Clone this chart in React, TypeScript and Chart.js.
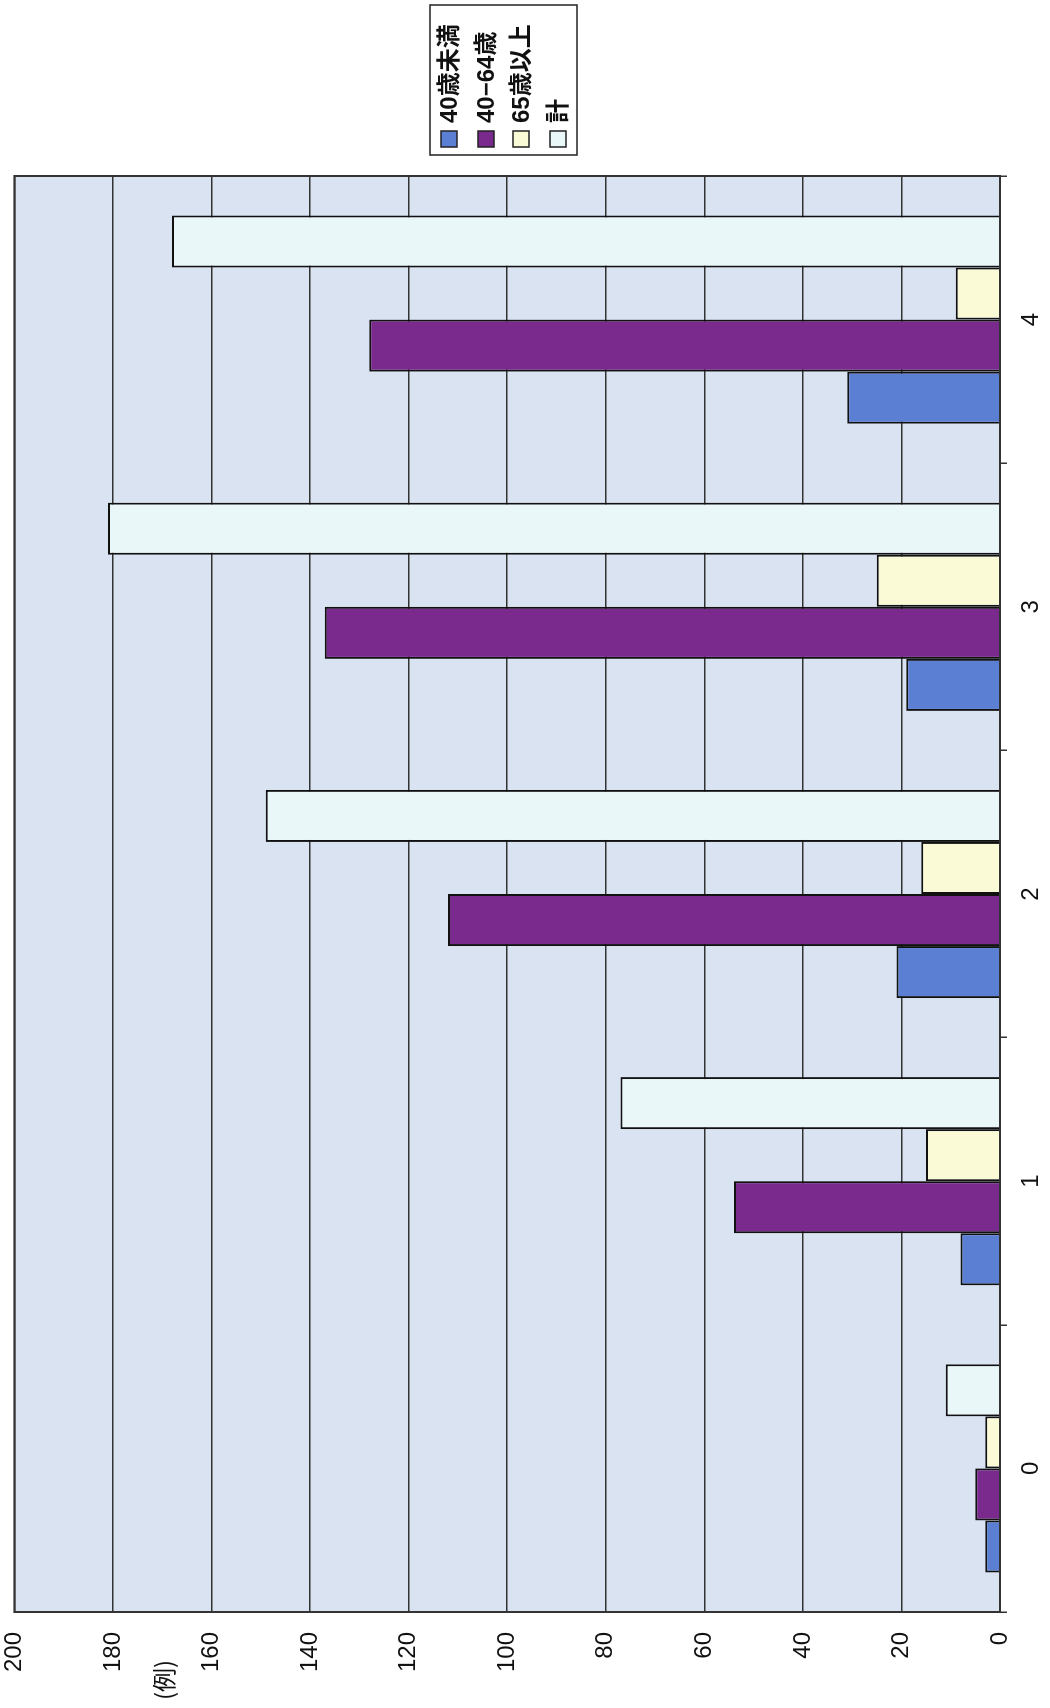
import React, { useEffect, useRef } from "react";
import { Chart, registerables } from "chart.js";

Chart.register(...registerables);

const categories = ["0", "1", "2", "3", "4"];
const under40 = [3, 8, 21, 19, 31];
const age40to64 = [5, 54, 112, 137, 128];
const over65 = [3, 15, 16, 25, 9];
const total = [11, 77, 149, 181, 168];
const seriesNames = ["40歳未満", "40−64歳", "65歳以上", "計"];
const seriesColors = ["#5b7fd2", "#7a2a8c", "#fafad6", "#eaf7f9"];
const unitLabel = "(例)";

const FONT = "'Liberation Sans', Arial, 'Noto Sans CJK JP', sans-serif";

export default function App() {
  const ref = useRef<HTMLCanvasElement | null>(null);

  useEffect(() => {
    if (!ref.current) return;
    const bgPlugin = {
      id: "plotbg",
      beforeDraw(chart: any) {
        const { ctx, chartArea } = chart;
        ctx.save();
        ctx.fillStyle = "#dae3f1";
        ctx.fillRect(chartArea.left, chartArea.top, chartArea.right - chartArea.left, chartArea.bottom - chartArea.top);
        ctx.restore();
      },
      afterDraw(chart: any) {
        const { ctx, chartArea } = chart;
        ctx.save();
        ctx.strokeStyle = "#333";
        ctx.lineWidth = 2;
        ctx.strokeRect(chartArea.left, chartArea.top, chartArea.right - chartArea.left, chartArea.bottom - chartArea.top);
        // unit label
        ctx.fillStyle = "#111";
        ctx.font = `24px 'Noto Sans CJK JP', sans-serif`;
        ctx.textAlign = "left";
        ctx.textBaseline = "middle";
        ctx.fillText(unitLabel, 8, 164);
        // legend
        const lx = 1553, ly = 430, lw = 150, lh = 147;
        ctx.fillStyle = "#fff";
        ctx.fillRect(lx, ly, lw, lh);
        ctx.strokeStyle = "#222";
        ctx.lineWidth = 1.5;
        ctx.strokeRect(lx, ly, lw, lh);
        const ys = [449, 486, 521, 558];
        ctx.font = `bold 24px 'Liberation Sans', 'Noto Sans CJK JP', sans-serif`;
        ctx.textBaseline = "middle";
        seriesNames.forEach((n, i) => {
          ctx.fillStyle = seriesColors[i];
          ctx.fillRect(lx + 8, ys[i] - 8, 16, 16);
          ctx.strokeStyle = "#222";
          ctx.lineWidth = 1.5;
          ctx.strokeRect(lx + 8, ys[i] - 8, 16, 16);
          ctx.fillStyle = "#111";
          ctx.fillText(n, lx + 32, ys[i] + 1);
        });
        ctx.restore();
      },
    };

    const chart = new Chart(ref.current, {
      type: "bar",
      data: {
        labels: categories,
        datasets: [under40, age40to64, over65, total].map((d, i) => ({
          label: seriesNames[i],
          data: d,
          backgroundColor: seriesColors[i],
          borderColor: "#111",
          borderWidth: 2,
          categoryPercentage: 0.725,
          barPercentage: 1,
        })),
      },
      options: {
        responsive: false,
        animation: false,
        layout: { padding: { left: 0, top: 13, right: 176, bottom: 0 } },
        plugins: { legend: { display: false }, tooltip: { enabled: false } },
        scales: {
          x: {
            grid: { offset: true, drawOnChartArea: false, drawTicks: true, tickLength: 7, color: "#333", lineWidth: 1.5 },
            border: { display: false },
            ticks: { color: "#111", font: { size: 24, family: FONT }, padding: 10, maxRotation: 0 },
            afterFit: (s: any) => { s.height = 50; },
          },
          y: {
            min: 0,
            max: 200,
            grid: { color: "#333", lineWidth: 1.5, drawTicks: true, tickLength: 20, tickColor: "rgba(0,0,0,0)" },
            border: { display: false },
            ticks: { stepSize: 20, color: "#111", font: { size: 24, family: FONT }, padding: 0 },
            afterFit: (s: any) => { s.width = 96; },
          },
        },
      },
      plugins: [bgPlugin],
    });
    return () => chart.destroy();
  }, []);

  return (
    <div style={{ position: "absolute", left: 0, top: 0, width: 1050, height: 1708, overflow: "hidden", background: "#fff" }}>
      <div
        style={{
          position: "absolute",
          left: 0,
          top: 0,
          width: 1708,
          height: 1050,
          transformOrigin: "0 0",
          transform: "translate(0px, 1708px) rotate(-90deg)",
        }}
      >
        <canvas ref={ref} width={1708} height={1050} style={{ display: "block" }} />
      </div>
    </div>
  );
}
